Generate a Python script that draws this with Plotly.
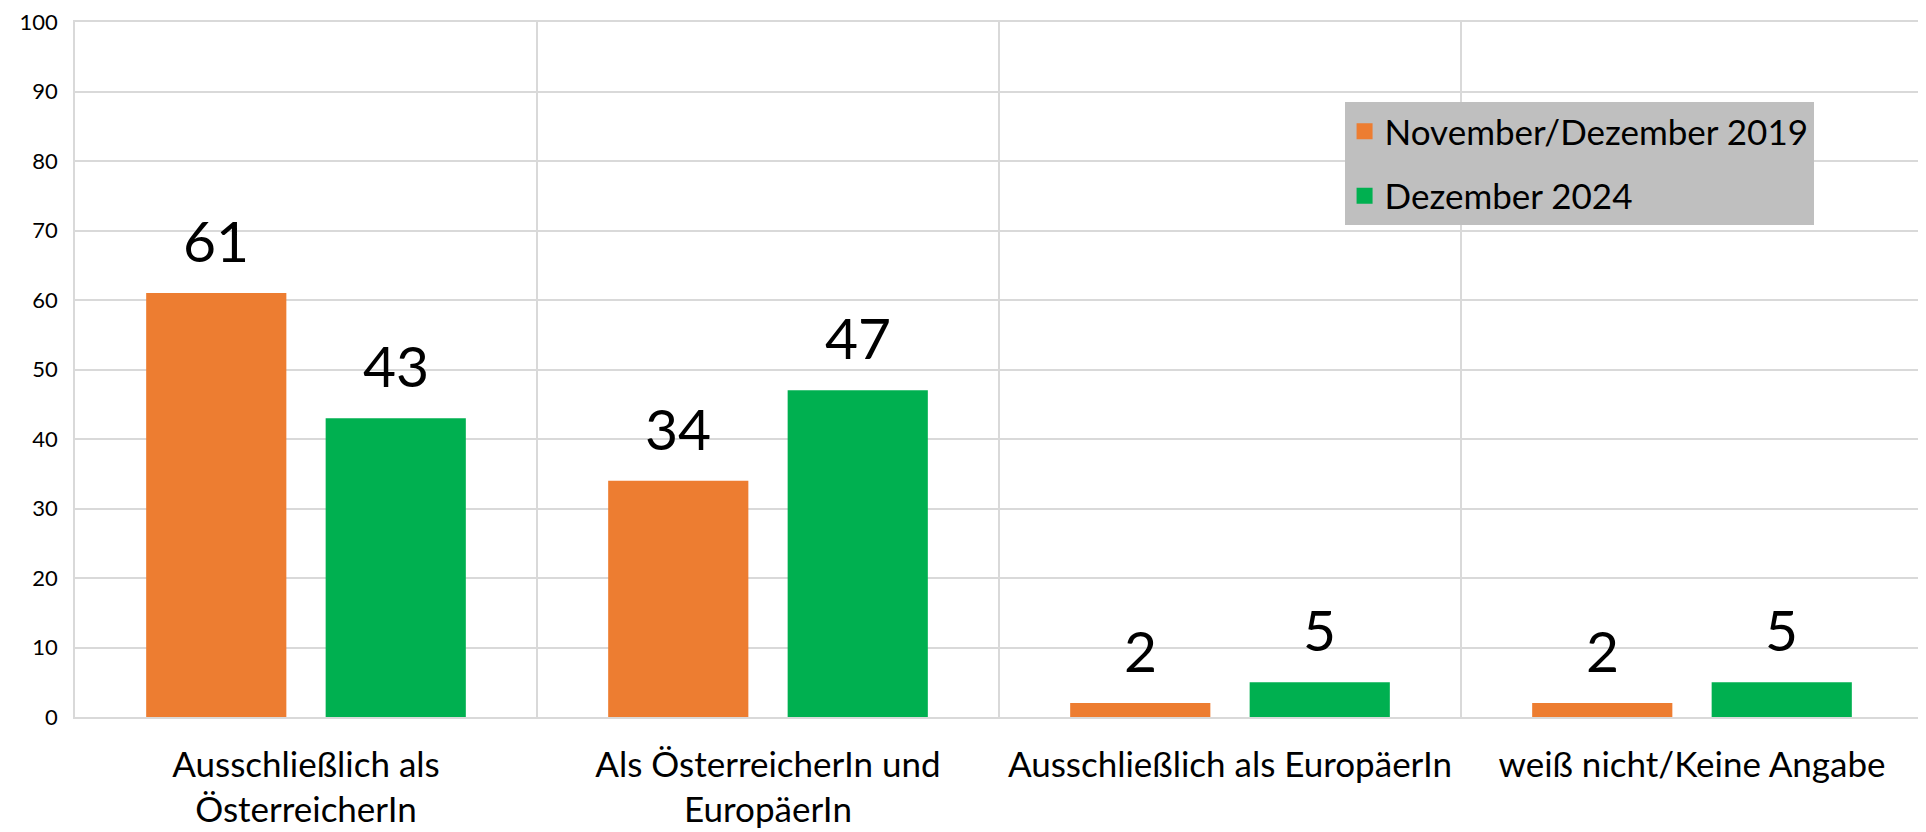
import plotly.graph_objects as go

categories = ["Ausschließlich als<br>ÖsterreicherIn",
              "Als ÖsterreicherIn und<br>EuropäerIn",
              "Ausschließlich als EuropäerIn",
              "weiß nicht/Keine Angabe"]
series_names = ["November/Dezember 2019", "Dezember 2024"]
values_2019 = [61, 34, 2, 2]
values_2024 = [43, 47, 5, 5]
y_ticks = [0, 10, 20, 30, 40, 50, 60, 70, 80, 90, 100]

colors = ["#ED7D31", "#00B050"]
FONT = "Lato"
bargap = 0.223
bargroupgap = 0.219

fig = go.Figure()
for name, vals, col in zip(series_names, [values_2019, values_2024], colors):
    fig.add_trace(go.Bar(x=categories, y=vals, name=name, marker_color=col,
                         marker_line_width=0, legendgroup=name, showlegend=False))
    # legend proxy with a larger square symbol
    fig.add_trace(go.Scatter(x=[None], y=[None], mode="markers", name=name,
                             marker=dict(symbol="square", size=16, color=col),
                             legendgroup=name, showlegend=True))

# data labels as annotations above each bar
offset = (1 - bargap) / 4
for s, vals in enumerate([values_2019, values_2024]):
    for i, v in enumerate(vals):
        fig.add_annotation(x=i + (-offset if s == 0 else offset), y=v, xref="x", yref="y",
                           text=str(v), showarrow=False, yanchor="bottom", yshift=17,
                           font=dict(family=FONT, size=57, color="black"))

fig.update_layout(
    width=1926, height=832,
    margin=dict(l=67, r=11, t=14, b=123),
    plot_bgcolor="white", paper_bgcolor="white",
    barmode="group", bargap=bargap, bargroupgap=bargroupgap,
    font=dict(family=FONT, color="black"),
    legend=dict(x=0.687, y=0.885, xanchor="left", yanchor="top",
                bgcolor="#BFBFBF", font=dict(family=FONT, size=35, color="black"),
                tracegroupgap=16, itemsizing="trace"),
    showlegend=True,
)
fig.update_xaxes(type="category", tickson="boundaries", showgrid=True, gridcolor="#D9D9D9",
                 gridwidth=1.5, showline=True, linecolor="#D9D9D9", linewidth=1.5, mirror=True,
                 ticks="", automargin=False, ticklabelstandoff=16,
                 tickfont=dict(family=FONT, size=35, color="black"))
fig.update_yaxes(range=[0, 100], tickvals=y_ticks, showgrid=True, gridcolor="#D9D9D9",
                 gridwidth=1.5, showline=True, linecolor="#D9D9D9", linewidth=1.5, mirror=True,
                 zeroline=False, ticks="", ticklabelstandoff=11, automargin=False,
                 ticklabeloverflow="allow",
                 tickfont=dict(family=FONT, size=22, color="black"))

fig.write_html("out.html")
